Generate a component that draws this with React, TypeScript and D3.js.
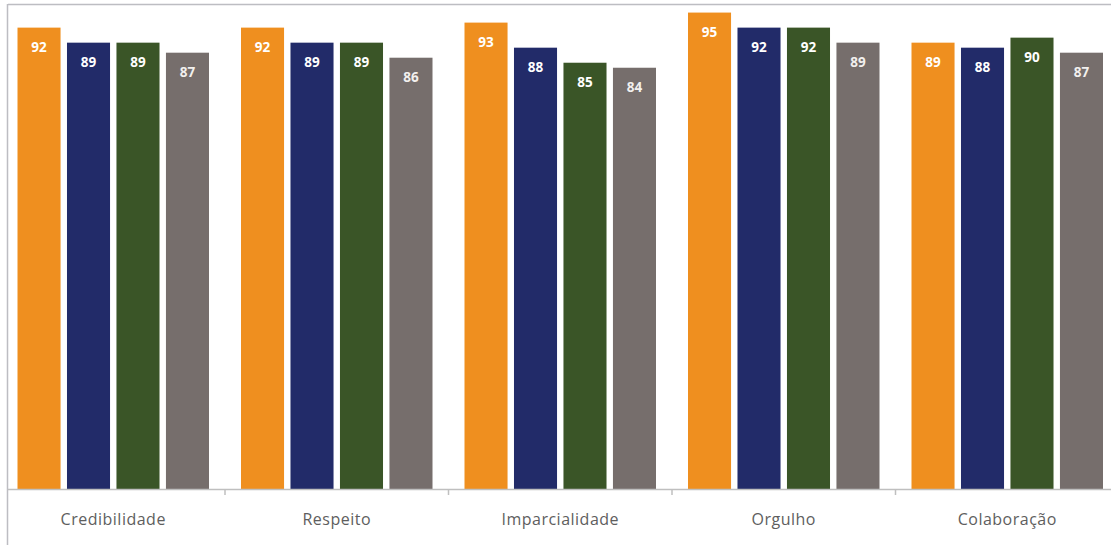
import React from "react";
import * as d3 from "d3";

const categories = ["Credibilidade", "Respeito", "Imparcialidade", "Orgulho", "Colaboração"];
const seriesNames = ["S1", "S2", "S3", "S4"];
const series1 = [92, 92, 93, 95, 89];
const series2 = [89, 89, 88, 92, 88];
const series3 = [89, 89, 85, 92, 90];
const series4 = [87, 86, 84, 89, 87];
const colors = ["#EF8F1F", "#222B69", "#3A5527", "#766E6C"];

const W = 1111;
const H = 545;

export default function App() {
  const allSeries = [series1, series2, series3, series4];
  const x = d3.scaleBand<string>().domain(categories).range([1.5, 1119]).paddingInner(0).paddingOuter(0);
  const inner = d3.scaleBand<string>().domain(seriesNames).range([16, x.bandwidth() - 16]).paddingInner(0.13);
  const y = d3.scaleLinear().domain([0, 100]).range([489, -12.5]);
  const boundaries = categories.slice(1).map((c) => x(c) as number);

  return (
    <svg width={W} height={H} style={{ position: "absolute", left: 0, top: 0, background: "#fff" }}>
      <rect x={0} y={0} width={W} height={H} fill="#fff" />
      <line x1={8} x2={W} y1={4.5} y2={4.5} stroke="#BDBDC2" strokeWidth={1.5} />
      <line x1={7.5} x2={7.5} y1={4} y2={H} stroke="#BDBDC2" strokeWidth={1.5} />
      {categories.map((c, ci) => (
        <g key={c} transform={`translate(${x(c)},0)`}>
          {allSeries.map((s, si) => {
            const bx = inner(seriesNames[si]) as number;
            const bw = inner.bandwidth();
            const top = y(s[ci]);
            return (
              <g key={si}>
                <rect x={bx} y={top} width={bw} height={y(0) - top} fill={colors[si]} />
                <text
                  x={bx + bw / 2}
                  y={top + 24}
                  textAnchor="middle"
                  fill={si === 3 ? "#F2F0EE" : "#FFFFFF"}
                  fontFamily="'Open Sans', sans-serif"
                  fontWeight={700}
                  fontSize={13.5}
                >
                  {s[ci]}
                </text>
              </g>
            );
          })}
          <text
            x={x.bandwidth() / 2}
            y={525}
            textAnchor="middle"
            fill="#5E5E5E"
            fontFamily="'Open Sans', sans-serif"
            fontSize={16}
            letterSpacing={0.5}
          >
            {c}
          </text>
        </g>
      ))}
      <line x1={8} x2={W} y1={489.5} y2={489.5} stroke="#BFBFBF" strokeWidth={1.5} />
      {boundaries.map((b, i) => (
        <line key={i} x1={b} x2={b} y1={489} y2={495} stroke="#BFBFBF" strokeWidth={1.5} />
      ))}
    </svg>
  );
}
